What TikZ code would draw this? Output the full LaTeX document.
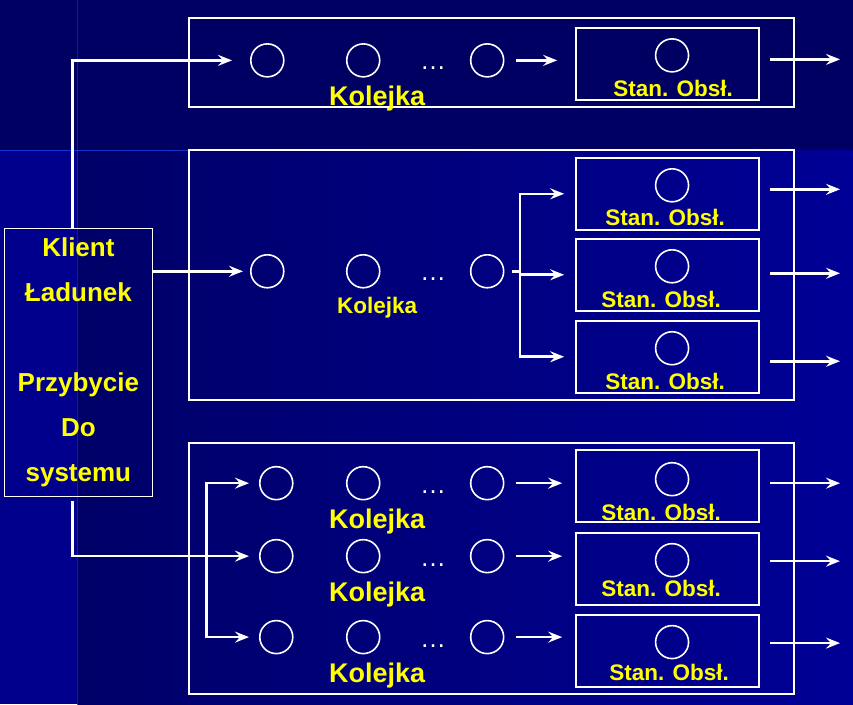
\documentclass[tikz,border=0pt]{standalone}
\usepackage{fontspec}
\setmainfont{Liberation Sans}
\usetikzlibrary{arrows.meta,positioning}
\definecolor{BgTop}{RGB}{0,0,98}
\definecolor{BgMid}{RGB}{0,0,104}
\definecolor{BgRight}{RGB}{0,0,150}
\definecolor{BgLeft}{RGB}{0,0,140}
\definecolor{Glow}{RGB}{30,90,255}
\definecolor{LabelYellow}{RGB}{255,255,0}

\tikzset{
  frame/.style={draw=white, line width=2pt},
  slot/.style={circle, draw=white, line width=1.6pt, minimum size=33pt, inner sep=0pt},
  station/.style={draw=white, line width=2pt, minimum width=183pt, minimum height=72pt, inner sep=0pt},
  flow/.style={draw=white, line width=2.6pt, -{Stealth[length=14pt,width=11pt,inset=5pt]}},
  wire/.style={draw=white, line width=2.6pt},
  qlabel/.style={text=LabelYellow, font=\bfseries\fontsize{27}{27}\selectfont, inner sep=0pt},
  qsmall/.style={text=LabelYellow, font=\bfseries\fontsize{22.5}{22.5}\selectfont, inner sep=0pt},
  slabel/.style={text=LabelYellow, font=\bfseries\fontsize{22.5}{22.5}\selectfont, inner sep=0pt},
  dots/.style={text=white, font=\fontsize{26}{26}\selectfont, inner sep=0pt},
}

\begin{document}
\begin{tikzpicture}[x=1pt, y=-1pt]
    % background
    \fill[BgTop] (0,0) rectangle (853,704);
    \shade[left color=BgMid, right color=BgRight] (77,150) rectangle (853,704);
    \fill[BgLeft] (0,150) rectangle (77,704);
    \draw[Glow, line width=0.8pt, opacity=0.6] (0,150) -- (190,150);
    \draw[Glow, line width=0.8pt, opacity=0.35] (77,0) -- (77,704);

    % arrival
    \node[draw=white, line width=1.2pt, minimum width=148pt, minimum height=268pt,
          align=center, text=LabelYellow, font=\bfseries\fontsize{26}{45}\selectfont]
          (klient) at (78,362) {Klient\\Ładunek\\[45pt]Przybycie\\Do\\systemu};

    % upper system: one queue, one station
    \draw[frame] (189,18) rectangle (794,107);
    \foreach \x [count=\i] in {267,363,487}
        \node[slot] (ua\i) at (\x,60) {};
    \node[dots] (udots) at (433,68) {\ldots};
    \node[qlabel] (ulab) at (377,98) {Kolejka};
    \node[station] (us) at (667.5,64) {};
    \node[slot] (usc) at (672,55) {};
    \node[slabel] (uslab) at (673,88) {Stan. Obsł.};
    \coordinate (uout) at (840,59);
    \draw[flow, shorten >=18pt] ([xshift=-6pt]klient.north) |- (ua1.west);
    \draw[flow, shorten <=12pt, shorten >=18pt] (ua3.east) -- (ua3.east -| us.west);
    \draw[flow, shorten <=10pt] (us.east |- uout) -- (uout);

    % middle system: one queue, three stations
    \draw[frame] (189,150) rectangle (794,400);
    \foreach \x [count=\i] in {267,363,487}
        \node[slot] (ma\i) at (\x,271) {};
    \node[dots] (mdots) at (433,279) {\ldots};
    \node[qsmall] (mlab) at (377,307) {Kolejka};
    \coordinate (mfork) at (520,271);
    \draw[flow, shorten >=7pt] (klient.east |- ma1) -- (ma1.west);
    \draw[wire, shorten <=8pt] (ma3.east) -- (mfork);
    \foreach \r/\y/\cy/\lx/\ly/\oy in {1/193.5/185/665/217/189, 2/274.5/266/661/299/273, 3/356.5/348/665/381/361} {
        \node[station] (ms\r) at (667.5,\y) {};
        \node[slot] (msc\r) at (672,\cy) {};
        \node[slabel] (mslab\r) at (\lx,\ly) {Stan. Obsł.};
        \coordinate (mout\r) at (840,\oy);
        \draw[flow, shorten >=11pt] (mfork) |- (ms\r.west);
        \draw[flow, shorten <=10pt] (ms\r.east |- mout\r) -- (mout\r);
    }

    % lower system: three queues, three stations
    \draw[frame] (189,443) rectangle (794,694);
    \foreach \r/\y/\sy/\cy/\lx/\ly/\oy in {1/483/486/479/661/512/483, 2/556/569/560/661/588/561, 3/637/651/642/669/672/643} {
        \node[slot] (b\r a) at (276,\y) {};
        \node[slot] (b\r b) at (363,\y) {};
        \node[slot] (b\r c) at (487,\y) {};
        \node[dots] (bdots\r) at (433,\y+9) {\ldots};
        \node[qlabel] (blab\r) at (377,\y+38) {Kolejka};
        \node[station] (bs\r) at (667.5,\sy) {};
        \node[slot] (bsc\r) at (672,\cy) {};
        \node[slabel] (bslab\r) at (\lx,\ly) {Stan. Obsł.};
        \coordinate (bout\r) at (840,\oy);
        \draw[flow, shorten <=12pt, shorten >=13pt] (b\r c.east) -- (b\r c.east -| bs\r.west);
        \draw[flow, shorten <=10pt] (bs\r.east |- bout\r) -- (bout\r);
    }
    \coordinate (bfork) at (206,556);
    \draw[flow, shorten <=4pt, shorten >=10pt] ([xshift=-6pt]klient.south) |- (b2a.west);
    \draw[flow, shorten >=10pt] (bfork) |- (b1a.west);
    \draw[flow, shorten >=10pt] (bfork) |- (b3a.west);
\end{tikzpicture}
\end{document}
